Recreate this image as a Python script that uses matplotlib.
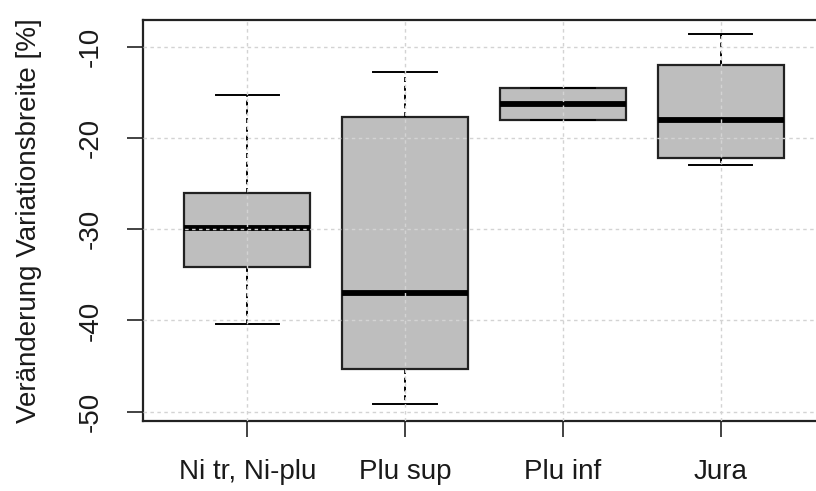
import matplotlib
matplotlib.use("Agg")
import matplotlib.pyplot as plt

plt.rcParams['font.family'] = ['Liberation Sans', 'DejaVu Sans']

categories = ["Ni tr, Ni-plu", "Plu sup", "Plu inf", "Jura"]
whisker_low = [-40.35, -49.19, -18.07, -22.93]
q1 = [-34.11, -45.29, -18.07, -22.20]
median = [-29.84, -37.03, -16.32, -18.03]
q3 = [-26.03, -17.67, -14.56, -11.97]
whisker_high = [-15.33, -12.74, -14.56, -8.64]
yticks = [-50, -40, -30, -20, -10]
ylabel = "Veränderung Variationsbreite [%]"

W, H = 816, 491
fig = plt.figure(figsize=(W / 100, H / 100), dpi=100)
left, right, top, bottom = 143, 825, 20, 421
ax = fig.add_axes([left / W, 1 - bottom / H, (right - left) / W, (bottom - top) / H])

stats = []
for i, c in enumerate(categories):
    stats.append(dict(label=c, med=median[i], q1=q1[i], q3=q3[i],
                      whislo=whisker_low[i], whishi=whisker_high[i], fliers=[]))

positions = list(range(1, len(categories) + 1))
ax.bxp(stats, positions=positions, widths=0.8, patch_artist=True, showfliers=False,
       boxprops=dict(facecolor="#BEBEBE", edgecolor="#222222", linewidth=1.6),
       medianprops=dict(color="black", linewidth=4.2, solid_capstyle="butt"),
       whiskerprops=dict(color="black", linewidth=1.4, linestyle=(0, (2.5, 2))),
       capprops=dict(color="black", linewidth=1.4),
       capwidths=0.4, zorder=2)

ax.set_xlim(0.34, 4.66)
ax.set_ylim(-51.02, -7.07)
ax.set_yticks(yticks)
ax.set_yticklabels([str(v) for v in yticks], rotation=90, va="center")
ax.set_xticks(positions)
ax.set_xticklabels(categories)

ax.grid(True, color="#D3D3D3", linestyle=(0, (2.5, 2.5)), linewidth=1.0, zorder=5)
ax.set_axisbelow(False)
for gl in ax.get_xgridlines() + ax.get_ygridlines():
    gl.set_zorder(5)

ax.tick_params(axis="both", length=11.5, width=1.2, color="#222222",
               labelsize=20, pad=17, labelcolor="#1a1a1a")
ax.tick_params(axis="x", pad=16)
for s in ax.spines.values():
    s.set_linewidth(1.6)
    s.set_color("#222222")

ax.set_ylabel(ylabel, fontsize=20, color="#1a1a1a")
ax.yaxis.set_label_coords(-(143 - 42) / (right - left), 0.5)

fig.savefig("out.png", dpi=100)
